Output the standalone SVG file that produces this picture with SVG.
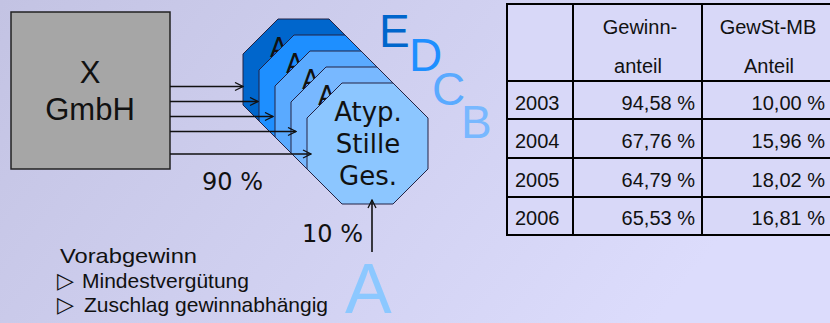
<svg xmlns="http://www.w3.org/2000/svg" xmlns:xlink="http://www.w3.org/1999/xlink" width="830" height="323" viewBox="0 0 830 323">
<defs>
<linearGradient id="bg" x1="0" y1="0" x2="1" y2="0.3">
<stop offset="0" stop-color="#c3c3e3"/>
<stop offset="1" stop-color="#dcdcfc"/>
</linearGradient>
<polygon id="oct" points="35,0 86,0 121,35 121,86 86,121 35,121 0,86 0,35"/>
<marker id="ah" viewBox="0 0 10 10" refX="9" refY="5" markerWidth="10" markerHeight="10" markerUnits="userSpaceOnUse" orient="auto">
<path d="M1,1 L9,5 L1,9" fill="none" stroke="#111" stroke-width="1.3"/>
</marker>
<style>
.sans{font-family:"Liberation Sans",Arial,sans-serif;fill:#111}
.dj{font-family:"DejaVu Sans",Verdana,sans-serif;fill:#111}
.octs{stroke:#222244;stroke-width:1}
.conn{stroke:#111;stroke-width:1.6;fill:none;marker-end:url(#ah)}
.grid{stroke:#000;stroke-width:2;fill:none}
.tb{font-family:"Liberation Sans",Arial,sans-serif;font-size:20px;fill:#111}
.big{font-family:"Liberation Sans",Arial,sans-serif}
</style>
</defs>
<rect width="830" height="323" fill="url(#bg)"/>

<g id="x-gmbh">
<rect x="11" y="12" width="159" height="157" fill="#a6a6a6" stroke="#222" stroke-width="1.5"/>
<text class="sans" x="90" y="83" font-size="31" text-anchor="middle">X</text>
<text class="sans" x="90" y="120" font-size="31" text-anchor="middle">GmbH</text>
</g>

<g id="oct-e">
<use xlink:href="#oct" x="243" y="19" fill="#0066cc" class="octs"/>
<text class="dj" x="270" y="57" font-size="26">A</text>
</g>
<g id="oct-d">
<use xlink:href="#oct" x="259" y="35" fill="#1e8fff" class="octs"/>
<text class="dj" x="286" y="73" font-size="26">A</text>
</g>
<g id="oct-c">
<use xlink:href="#oct" x="275" y="51" fill="#5aaaff" class="octs"/>
<text class="dj" x="302" y="89" font-size="26">A</text>
</g>
<g id="oct-b">
<use xlink:href="#oct" x="291" y="67" fill="#78b8ff" class="octs"/>
<text class="dj" x="318" y="105" font-size="26">A</text>
</g>
<g id="oct-a">
<use xlink:href="#oct" x="307" y="83" fill="#8cc6ff" class="octs"/>
<text class="dj" x="368" y="121" font-size="26" text-anchor="middle">Atyp.</text>
<text class="dj" x="368" y="153" font-size="26" text-anchor="middle">Stille</text>
<text class="dj" x="368" y="185" font-size="26" text-anchor="middle">Ges.</text>
</g>

<g id="connectors">
<line class="conn" x1="170" y1="86.5" x2="243" y2="86.5"/>
<line class="conn" x1="170" y1="101.5" x2="258" y2="101.5"/>
<line class="conn" x1="170" y1="116.5" x2="273" y2="116.5"/>
<line class="conn" x1="170" y1="131.5" x2="296" y2="131.5"/>
<line class="conn" x1="170" y1="154" x2="311" y2="154"/>
<line class="conn" x1="372" y1="252" x2="372" y2="200"/>
</g>

<g id="labels">
<text class="dj" x="202" y="190" font-size="24">90 %</text>
<text class="dj" x="302" y="242" font-size="24">10 %</text>
<text class="big" x="379" y="47" font-size="46" fill="#0066cc">E</text>
<text class="big" x="409" y="71" font-size="46" fill="#1e8fff">D</text>
<text class="big" x="432" y="105" font-size="46" fill="#5aaaff">C</text>
<text class="big" x="461" y="138" font-size="46" fill="#78b8ff">B</text>
<text class="big" x="345" y="313" font-size="70" fill="#8cc8ff">A</text>
</g>

<g id="vorab">
<text class="sans" x="60" y="263" font-size="21" textLength="137" lengthAdjust="spacingAndGlyphs">Vorabgewinn</text>
<text class="sans" y="288" font-size="21"><tspan class="dj" x="57" font-size="22">▷</tspan><tspan x="82">Mindestvergütung</tspan></text>
<text class="sans" y="312" font-size="21"><tspan class="dj" x="57" font-size="22">▷</tspan><tspan x="84">Zuschlag gewinnabhängig</tspan></text>
</g>

<g id="table">
<rect x="507" y="4" width="324" height="231" fill="#d8d8f8"/>
<path class="grid" d="M507,4 H831 V235 H507 Z M573,4 V235 M702,4 V235 M507,81 H831 M507,119 H831 M507,158 H831 M507,197 H831"/>
<text class="tb" x="640" y="34" text-anchor="middle">Gewinn-</text>
<text class="tb" x="638" y="73" text-anchor="middle">anteil</text>
<text class="tb" x="768" y="34" text-anchor="middle">GewSt-MB</text>
<text class="tb" x="769" y="73" text-anchor="middle">Anteil</text>
<text class="tb" x="515" y="110">2003</text>
<text class="tb" x="695" y="110" text-anchor="end">94,58 %</text>
<text class="tb" x="825" y="110" text-anchor="end">10,00 %</text>
<text class="tb" x="515" y="148">2004</text>
<text class="tb" x="695" y="148" text-anchor="end">67,76 %</text>
<text class="tb" x="825" y="148" text-anchor="end">15,96 %</text>
<text class="tb" x="515" y="187">2005</text>
<text class="tb" x="695" y="187" text-anchor="end">64,79 %</text>
<text class="tb" x="825" y="187" text-anchor="end">18,02 %</text>
<text class="tb" x="515" y="225">2006</text>
<text class="tb" x="695" y="225" text-anchor="end">65,53 %</text>
<text class="tb" x="825" y="225" text-anchor="end">16,81 %</text>
</g>
</svg>
